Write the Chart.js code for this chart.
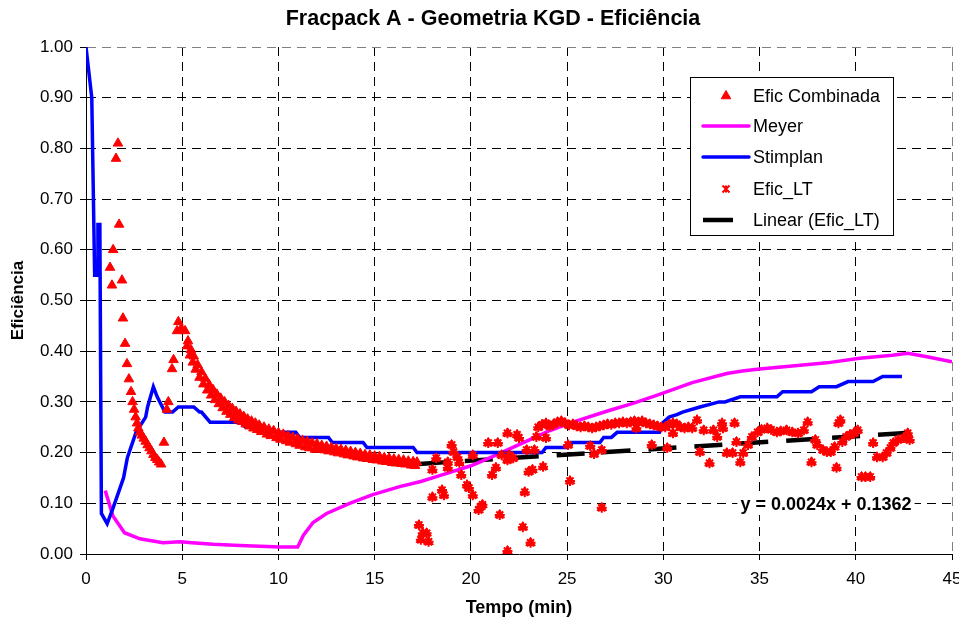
<!DOCTYPE html>
<html>
<head>
<meta charset="utf-8">
<title>Fracpack A - Geometria KGD - Eficiência</title>
<script src="https://cdn.jsdelivr.net/npm/chart.js@4.4.0/dist/chart.umd.min.js"></script>
<style>
  html, body { margin: 0; padding: 0; background: #fff; }
  #box { width: 959px; height: 625px; }
</style>
</head>
<body>
<div id="box"><canvas id="grafico"></canvas></div>
<script>
// Meyer (curva magenta): tempo (min) x eficiência
var meyerT = [1.0, 1.4, 2.0, 2.8, 4.0, 4.9, 5.5, 6.6, 8.0, 10.1, 11.0, 11.3, 11.8, 12.5, 13.7, 14.9,
              16.3, 17.4, 18.5, 20.0, 21.0, 21.7, 23.1, 24.0, 25.3, 27.1, 28.5, 29.8, 31.5, 33.3,
              34.1, 35.0, 36.7, 38.5, 40.2, 41.9, 42.7, 43.7, 45.0];
var meyerE = [0.125, 0.075, 0.042, 0.030, 0.022, 0.024, 0.022, 0.019, 0.017, 0.014, 0.014, 0.037, 0.062,
              0.080, 0.100, 0.117, 0.133, 0.143, 0.156, 0.174, 0.190, 0.202, 0.226, 0.242, 0.260,
              0.282, 0.298, 0.315, 0.338, 0.356, 0.361, 0.365, 0.371, 0.377, 0.386, 0.392, 0.396,
              0.389, 0.379];

// Stimplan (curva azul)
var stimT = [0, 0.3, 0.45, 0.6, 0.62, 0.72, 0.8, 1.1, 1.4, 1.95, 2.15, 2.6, 3.1, 3.2, 3.5, 3.7, 4.1,
             4.5, 4.8, 5.6, 5.9, 6.0, 6.45, 8.0, 8.3, 8.7, 9.0, 10.9, 11.1, 12.6, 12.8, 14.4, 14.6,
             17.0, 17.2, 20.0, 23.7, 23.9, 25.0, 25.2, 26.7, 26.9, 27.3, 27.6, 29.8, 30.0, 30.3,
             30.7, 31.0, 31.9, 32.9, 33.2, 34.0, 35.9, 36.2, 37.7, 38.1, 39.0, 39.6, 40.9, 41.4, 42.4];
var stimE = [1.00, 0.90, 0.55, 0.55, 0.65, 0.65, 0.08, 0.06, 0.09, 0.15, 0.19, 0.24, 0.27, 0.29, 0.33,
             0.31, 0.28, 0.28, 0.29, 0.29, 0.28, 0.28, 0.26, 0.26, 0.25, 0.25, 0.24, 0.24, 0.23, 0.23,
             0.22, 0.22, 0.21, 0.21, 0.20, 0.20, 0.20, 0.21, 0.21, 0.22, 0.22, 0.23, 0.23, 0.24, 0.24,
             0.26, 0.27, 0.275, 0.28, 0.29, 0.30, 0.30, 0.31, 0.31, 0.32, 0.32, 0.33, 0.33, 0.34, 0.34,
             0.35, 0.35];

// Efic Combinada, trecho inicial (até o fim do bombeio)
var combT = [1.25, 1.35, 1.41, 1.56, 1.66, 1.72, 1.87, 1.92, 2.03, 2.13, 2.23, 2.34, 2.42, 2.50, 2.58,
             2.65, 2.72, 2.80, 2.90, 3.00, 3.10, 3.20, 3.30, 3.40, 3.50, 3.60, 3.70, 3.80, 3.90, 4.05,
             4.20, 4.28, 4.47, 4.55, 4.73, 4.80, 4.95, 5.15, 5.3, 5.45, 5.6, 5.8, 6.0, 6.2, 6.4, 6.6,
             6.8, 7.0, 7.2, 7.4, 7.6, 7.8, 8.0, 8.2, 8.4, 8.6, 8.8, 9.0, 9.25, 9.5, 9.75, 10.0, 10.25,
             10.5, 10.75, 11.0, 11.25, 11.5, 11.75, 12.0, 12.25, 12.5, 12.75, 13.0, 13.25, 13.5, 13.75,
             14.0, 14.25, 14.5, 14.75, 15.0, 15.25, 15.5, 15.75, 16.0, 16.25, 16.5, 16.75, 17.0, 17.2];
var combE = [0.565, 0.530, 0.600, 0.780, 0.810, 0.650, 0.540, 0.465, 0.415, 0.375, 0.345, 0.320, 0.300,
             0.285, 0.270, 0.258, 0.248, 0.240, 0.234, 0.228, 0.222, 0.215, 0.209, 0.203, 0.196, 0.190,
             0.186, 0.181, 0.177, 0.220, 0.285, 0.300, 0.365, 0.383, 0.440, 0.458, 0.445, 0.440, 0.420,
             0.403, 0.390, 0.373, 0.359, 0.346, 0.334, 0.324, 0.315, 0.307, 0.300, 0.293, 0.287, 0.281,
             0.276, 0.271, 0.266, 0.262, 0.258, 0.254, 0.250, 0.246, 0.243, 0.239, 0.236, 0.233, 0.230,
             0.227, 0.224, 0.222, 0.219, 0.217, 0.214, 0.212, 0.210, 0.208, 0.206, 0.204, 0.202, 0.200,
             0.198, 0.196, 0.195, 0.193, 0.192, 0.190, 0.189, 0.187, 0.186, 0.185, 0.183, 0.182, 0.181];
// segunda fileira de pontos, borda inferior da faixa de declínio
var comb2T = [5.25, 5.4, 5.55, 5.7, 5.9, 6.1, 6.3, 6.5, 6.7, 6.9, 7.1, 7.3, 7.5, 7.7, 7.9, 8.1, 8.3,
              8.5, 8.7, 8.9, 9.1, 9.4, 9.6, 9.9, 10.1, 10.4, 10.6, 10.9, 11.1, 11.4, 11.6, 11.9, 12.1,
              12.4, 12.6, 12.9, 13.1, 13.4, 13.6, 13.9, 14.1, 14.4, 14.6, 14.9, 15.1, 15.4, 15.6, 15.9,
              16.1, 16.4, 16.6, 16.9, 17.1];
var comb2E = [0.410, 0.392, 0.378, 0.364, 0.348, 0.335, 0.323, 0.313, 0.304, 0.296, 0.288, 0.281, 0.275,
              0.269, 0.264, 0.261, 0.256, 0.252, 0.248, 0.245, 0.241, 0.236, 0.233, 0.229, 0.226, 0.223,
              0.220, 0.217, 0.214, 0.211, 0.209, 0.206, 0.207, 0.205, 0.203, 0.201, 0.199, 0.197, 0.195,
              0.193, 0.191, 0.189, 0.188, 0.186, 0.185, 0.183, 0.182, 0.180, 0.179, 0.178, 0.177, 0.175,
              0.174];

// Efic_LT (pontos após o fim do bombeio)
var ltT = [17.3, 17.4, 17.5, 17.7, 17.8, 18.0, 18.0, 18.2, 18.5, 18.6, 18.8, 18.8, 19.0, 19.1, 19.3,
           19.4, 19.5, 19.8, 19.9, 20.1, 20.1, 20.4, 20.5, 20.6, 20.9, 21.1, 21.3, 21.4, 21.5, 21.6,
           21.9, 21.9, 21.9, 22.0, 22.2, 22.4, 22.5, 22.7, 22.8, 22.9, 23.0, 23.1, 23.2, 23.3, 23.4,
           23.5, 23.7, 23.75, 23.9, 23.9, 24.1, 24.3, 24.5, 24.7, 24.9, 25.05, 25.1, 25.15, 25.3, 25.5,
           25.7, 25.9, 26.1, 26.2, 26.3, 26.4, 26.5, 26.7, 26.8, 26.8, 26.9, 27.1, 27.3, 27.5, 27.7,
           27.9, 28.1, 28.3, 28.5, 28.6, 28.7, 28.9, 29.1, 29.3, 29.4, 29.5, 29.7, 29.9, 30.1, 30.2,
           30.3, 30.5, 30.5, 30.7, 30.9, 31.1, 31.3, 31.5, 31.75, 31.9, 32.1, 32.4, 32.6, 32.8, 33.05,
           33.1, 33.3, 33.6, 33.7, 33.8, 34.0, 34.15, 34.4, 34.6, 34.9, 35.1, 35.4, 35.6, 35.9, 36.1,
           36.4, 36.7, 37.0, 37.3, 37.5, 37.7, 37.9, 38.0, 38.3, 38.5, 38.7, 38.9, 39.0, 39.1, 39.2,
           39.3, 39.5, 39.7, 39.9, 40.1, 40.3, 40.5, 40.75, 40.9, 41.1, 41.4, 41.6, 41.8, 41.95, 42.2,
           42.5, 42.7, 42.8];
var ltE = [0.057, 0.028, 0.041, 0.041, 0.024, 0.112, 0.166, 0.189, 0.126, 0.116, 0.170, 0.181, 0.215,
           0.201, 0.191, 0.180, 0.156, 0.136, 0.130, 0.116, 0.195, 0.087, 0.093, 0.097, 0.219, 0.156,
           0.170, 0.219, 0.077, 0.195, 0.185, 0.006, 0.238, 0.195, 0.189, 0.235, 0.229, 0.053, 0.122,
           0.205, 0.162, 0.022, 0.166, 0.205, 0.231, 0.250, 0.255, 0.172, 0.229, 0.258, 0.252, 0.256,
           0.260, 0.262, 0.258, 0.215, 0.254, 0.144, 0.256, 0.252, 0.250, 0.252, 0.250, 0.213, 0.248,
           0.197, 0.250, 0.252, 0.205, 0.091, 0.254, 0.256, 0.255, 0.258, 0.258, 0.260, 0.258, 0.260,
           0.262, 0.248, 0.260, 0.262, 0.258, 0.256, 0.215, 0.254, 0.252, 0.250, 0.250, 0.209, 0.255,
           0.258, 0.238, 0.256, 0.250, 0.248, 0.250, 0.248, 0.264, 0.201, 0.244, 0.179, 0.244, 0.231,
           0.258, 0.248, 0.199, 0.199, 0.258, 0.221, 0.181, 0.199, 0.215, 0.231, 0.240, 0.245, 0.248,
           0.245, 0.240, 0.242, 0.244, 0.240, 0.238, 0.244, 0.260, 0.181, 0.225, 0.215, 0.205, 0.201,
           0.201, 0.211, 0.170, 0.258, 0.264, 0.221, 0.231, 0.235, 0.238, 0.244, 0.152, 0.152, 0.152,
           0.219, 0.191, 0.191, 0.199, 0.209, 0.219, 0.225, 0.229, 0.238, 0.225];

// linha de tendência linear sobre Efic_LT
var tendCoef = [0.0024, 0.1362];   // inclinação, intercepto
var tendT = [17.3, 42.9];

var eixoX = [0, 45, 5];
var eixoY = [0, 1, 0.1];

function pares(ts, es) {
  var r = [];
  for (var i = 0; i < ts.length; i++) r.push({x: ts[i], y: es[i]});
  return r;
}

var ptsLT = pares(ltT, ltE);
var ptsComb = pares(combT, combE).concat(pares(comb2T, comb2E), ptsLT);
var ptsTend = tendT.map(function (t) { return {x: t, y: tendCoef[0] * t + tendCoef[1]}; });

var fonte = "'Liberation Sans', Arial, sans-serif";
Chart.defaults.font.family = fonte;
Chart.defaults.color = '#000';

function estrela(ctx, x, y, r) {
  ctx.beginPath();
  ctx.moveTo(x - r, y - r); ctx.lineTo(x + r, y + r);
  ctx.moveTo(x - r, y + r); ctx.lineTo(x + r, y - r);
  ctx.moveTo(x, y - r); ctx.lineTo(x, y + r);
  ctx.stroke();
}

// título, legenda em caixa dentro da área do gráfico e equação da reta
var textos = {
  id: 'textos',
  afterDraw: function (chart) {
    var ctx = chart.ctx;
    var ds = chart.data.datasets;
    ctx.save();
    ctx.fillStyle = '#000';
    ctx.font = 'bold 21.5px ' + fonte;
    ctx.textAlign = 'center';
    ctx.textBaseline = 'middle';
    ctx.fillText('Fracpack A - Geometria KGD - Eficiência', 493, 19);

    ctx.fillStyle = '#fff';
    ctx.fillRect(690, 77, 204, 159);
    ctx.strokeStyle = '#000';
    ctx.lineWidth = 1;
    ctx.strokeRect(690.5, 77.5, 203, 158);
    var ys = [96, 126, 157, 189, 220];
    for (var i = 0; i < ds.length; i++) {
      var d = ds[i], y = ys[i];
      ctx.strokeStyle = d.borderColor;
      ctx.fillStyle = d.backgroundColor;
      ctx.lineWidth = d.borderWidth;
      if (d.showLine) {
        ctx.beginPath();
        if (d.borderDash) {
          ctx.moveTo(703, y); ctx.lineTo(733, y);
        } else {
          ctx.lineCap = 'round';
          ctx.moveTo(703, y); ctx.lineTo(749, y);
        }
        ctx.stroke();
        ctx.lineCap = 'butt';
      } else if (d.pointStyle === 'star') {
        estrela(ctx, 726, y, 3.5);
      } else {
        Chart.helpers.drawPoint(ctx, {
          pointStyle: d.pointStyle, radius: d.pointRadius, borderWidth: d.borderWidth
        }, 726, y);
      }
      ctx.fillStyle = '#000';
      ctx.font = '18px ' + fonte;
      ctx.textAlign = 'left';
      ctx.fillText(d.label, 753, y + 1);
    }

    var eq = 'y = ' + tendCoef[0].toFixed(4) + 'x + ' + tendCoef[1].toFixed(4);
    ctx.font = 'bold 18px ' + fonte;
    var w = ctx.measureText(eq).width;
    ctx.fillStyle = '#fff';
    ctx.fillRect(826 - w / 2 - 3, 494, w + 6, 21);
    ctx.fillStyle = '#000';
    ctx.textAlign = 'center';
    ctx.fillText(eq, 826, 505);
    ctx.restore();
  }
};

new Chart(document.getElementById('grafico'), {
  type: 'scatter',
  data: {
    datasets: [
      {
        label: 'Efic Combinada', data: ptsComb, pointStyle: 'triangle', pointRadius: 5.5,
        backgroundColor: '#ff0000', borderColor: '#ff0000', borderWidth: 1, showLine: false, order: 1
      },
      {
        label: 'Meyer', data: pares(meyerT, meyerE), showLine: true, borderColor: '#ff00ff',
        backgroundColor: '#ff00ff', borderWidth: 3.5, pointRadius: 0, order: 4
      },
      {
        label: 'Stimplan', data: pares(stimT, stimE), showLine: true, borderColor: '#0000ff',
        backgroundColor: '#0000ff', borderWidth: 3.5, pointRadius: 0, order: 3
      },
      {
        label: 'Efic_LT', data: ptsLT, pointStyle: 'star', pointRadius: 5,
        backgroundColor: '#ff0000', borderColor: '#ff0000', borderWidth: 2, showLine: false, order: 0
      },
      {
        label: 'Linear (Efic_LT)', data: ptsTend, showLine: true, borderColor: '#000',
        backgroundColor: '#000', borderWidth: 4.5, borderDash: [28, 18], pointRadius: 0, order: 5
      }
    ]
  },
  options: {
    responsive: true,
    maintainAspectRatio: false,
    animation: false,
    layout: { padding: { left: 0, right: 7, top: 47, bottom: 0 } },
    plugins: {
      legend: { display: false },
      tooltip: { enabled: false },
      title: { display: false }
    },
    scales: {
      x: {
        type: 'linear', min: eixoX[0], max: eixoX[1],
        ticks: { stepSize: eixoX[2], font: { size: 17 }, padding: 9, maxRotation: 0 },
        grid: {
          color: function (c) { return c.tick && c.tick.value === 45 ? '#808080' : '#000'; },
          lineWidth: 1, tickLength: 6, tickColor: '#000'
        },
        border: { display: true, color: '#000', width: 1, dash: [9, 6] },
        title: { display: true, text: 'Tempo (min)', font: { size: 18, weight: 'bold' }, padding: { top: 0, bottom: 6 } },
        afterFit: function (s) { s.height = 71; s.paddingLeft = 0; s.paddingRight = 0; }
      },
      y: {
        type: 'linear', min: eixoY[0], max: eixoY[1],
        ticks: {
          stepSize: eixoY[2], font: { size: 17 }, padding: 7,
          callback: function (v) { return v.toFixed(2); }
        },
        grid: {
          color: function (c) { return c.tick && c.tick.value === 1 ? '#808080' : '#000'; },
          lineWidth: 1, tickLength: 6, tickColor: '#000'
        },
        border: { display: true, color: '#000', width: 1, dash: [9, 6] },
        title: { display: true, text: 'Eficiência', font: { size: 17, weight: 'bold' }, padding: { top: 8, bottom: 0 } },
        afterFit: function (s) { s.width = 86; s.paddingTop = 0; s.paddingBottom = 0; }
      }
    }
  },
  plugins: [textos]
});
</script>
</body>
</html>
